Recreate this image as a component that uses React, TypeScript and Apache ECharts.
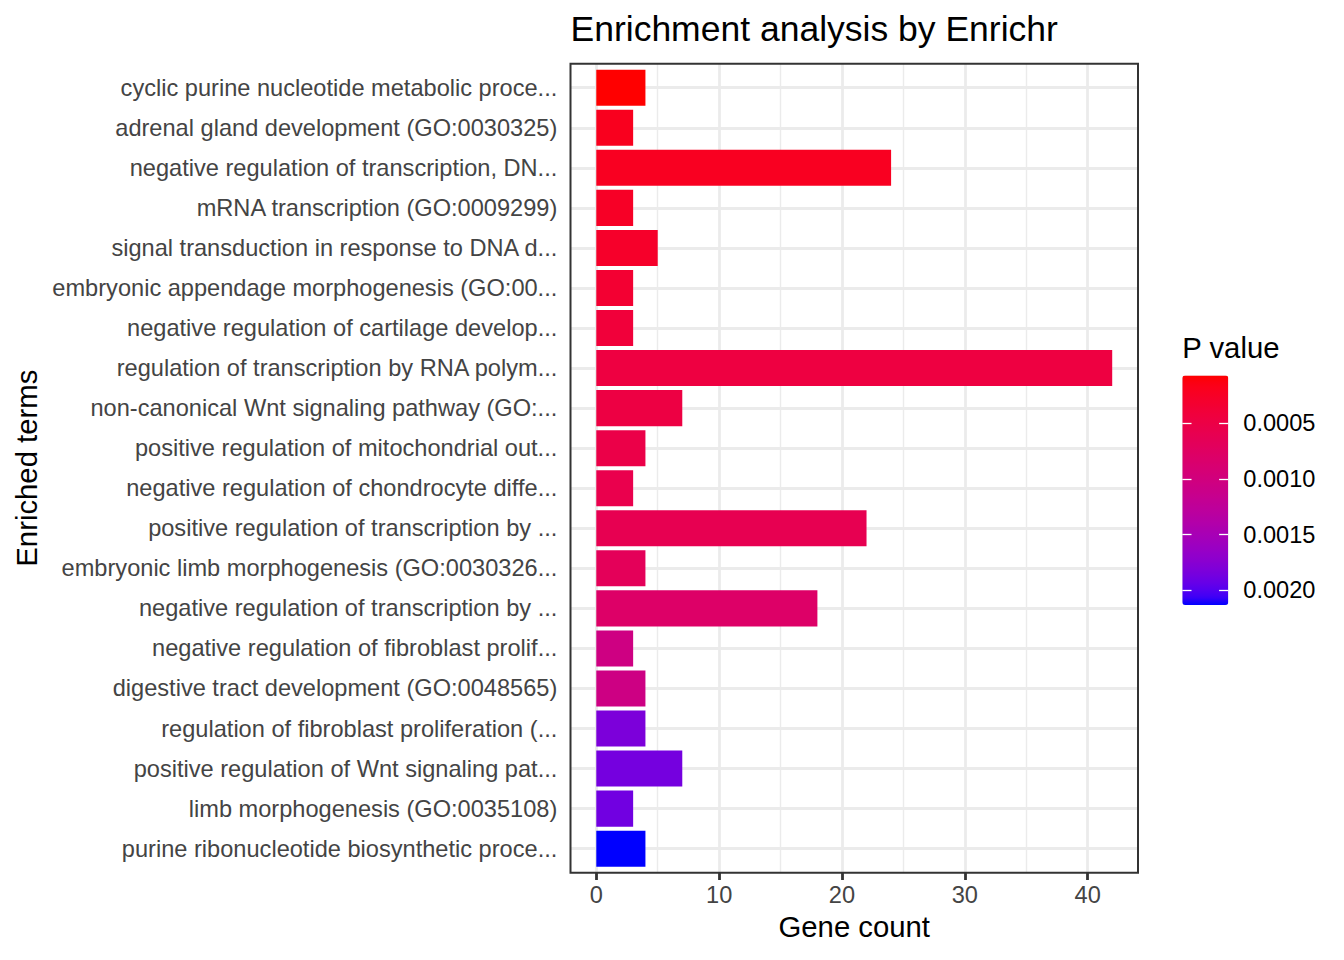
import React, { useEffect, useRef } from 'react';
import * as echarts from 'echarts';

// ---------------- data ----------------
const terms = [
  'cyclic purine nucleotide metabolic proce...',
  'adrenal gland development (GO:0030325)',
  'negative regulation of transcription, DN...',
  'mRNA transcription (GO:0009299)',
  'signal transduction in response to DNA d...',
  'embryonic appendage morphogenesis (GO:00...',
  'negative regulation of cartilage develop...',
  'regulation of transcription by RNA polym...',
  'non-canonical Wnt signaling pathway (GO:...',
  'positive regulation of mitochondrial out...',
  'negative regulation of chondrocyte diffe...',
  'positive regulation of transcription by ...',
  'embryonic limb morphogenesis (GO:0030326...',
  'negative regulation of transcription by ...',
  'negative regulation of fibroblast prolif...',
  'digestive tract development (GO:0048565)',
  'regulation of fibroblast proliferation (...',
  'positive regulation of Wnt signaling pat...',
  'limb morphogenesis (GO:0035108)',
  'purine ribonucleotide biosynthetic proce...',
];
const geneCounts = [4, 3, 24, 3, 5, 3, 3, 42, 7, 4, 3, 22, 4, 18, 3, 4, 4, 7, 3, 4];
const pValues = [
  0.000073, 0.0002, 0.00022, 0.00025, 0.00028, 0.00034, 0.0004, 0.00046, 0.00048, 0.00052,
  0.00056, 0.0006, 0.00067, 0.0008, 0.00104, 0.00105, 0.00182, 0.00186, 0.00188, 0.00213,
];
const xMajorBreaks = [0, 10, 20, 30, 40];
const xMinorBreaks = [5, 15, 25, 35];
const legendBreaks = [0.0005, 0.001, 0.0015, 0.002];

const title = 'Enrichment analysis by Enrichr';
const xTitle = 'Gene count';
const yTitle = 'Enriched terms';
const legendTitle = 'P value';
const lowColor = '#FF0000';
const highColor = '#0000FF';

// ---------------- layout / style ----------------
const FONT = "'Liberation Sans', Arial, Helvetica, sans-serif";
const PANEL_L = 570.5;
const PANEL_R = 1138;
const PANEL_T = 63.7;
const PANEL_B = 872.7;
const PANEL_W = PANEL_R - PANEL_L;
const PANEL_H = PANEL_B - PANEL_T;
const CAT_UNIT = PANEL_H / (terms.length + 0.2);
const BAR_T = PANEL_T + 0.1 * CAT_UNIT;
const BAR_H = terms.length * CAT_UNIT;

const CB_L = 1182.3;
const CB_T = 375.5;
const CB_W = 46;
const CB_H = 229.5;
const CB_TICK = 9.2;

const AXIS_TEXT = 23.6;
const TITLE_TEXT = 29.3;
const PLOT_TITLE = 35.5;
const GRID_COL = '#EBEBEB';
const DARK = '#333333';
const AXIS_TEXT_COL = '#444444';

// ---------------- Lab colour ramp (like scales::seq_gradient_pal) ----------------
function hexToRgb(h: string) {
  const v = parseInt(h.slice(1), 16);
  return [(v >> 16) & 255, (v >> 8) & 255, v & 255];
}
const toLin = (c: number) => {
  c /= 255;
  return c <= 0.04045 ? c / 12.92 : Math.pow((c + 0.055) / 1.055, 2.4);
};
const fromLin = (c: number) => {
  c = Math.max(0, Math.min(1, c));
  const v = c <= 0.0031308 ? 12.92 * c : 1.055 * Math.pow(c, 1 / 2.4) - 0.055;
  return Math.round(v * 255);
};
const D = 6 / 29;
const f = (t: number) => (t > D * D * D ? Math.cbrt(t) : t / (3 * D * D) + 4 / 29);
const finv = (t: number) => (t > D ? t * t * t : 3 * D * D * (t - 4 / 29));
function rgbToLab(rgb: number[]) {
  const [r, g, b] = rgb.map(toLin);
  const X = 0.4124564 * r + 0.3575761 * g + 0.1804375 * b;
  const Y = 0.2126729 * r + 0.7151522 * g + 0.072175 * b;
  const Z = 0.0193339 * r + 0.119192 * g + 0.9503041 * b;
  const fx = f(X / 0.95047), fy = f(Y), fz = f(Z / 1.08883);
  return [116 * fy - 16, 500 * (fx - fy), 200 * (fy - fz)];
}
function labToHex(lab: number[]) {
  const fy = (lab[0] + 16) / 116;
  const fx = fy + lab[1] / 500;
  const fz = fy - lab[2] / 200;
  const X = 0.95047 * finv(fx), Y = finv(fy), Z = 1.08883 * finv(fz);
  const r = 3.2404542 * X - 1.5371385 * Y - 0.4985314 * Z;
  const g = -0.969266 * X + 1.8760108 * Y + 0.041556 * Z;
  const b = 0.0556434 * X - 0.2040259 * Y + 1.0572252 * Z;
  return '#' + [r, g, b].map((c) => fromLin(c).toString(16).padStart(2, '0')).join('');
}
function labRamp(c1: string, c2: string, n: number) {
  const a = rgbToLab(hexToRgb(c1));
  const b = rgbToLab(hexToRgb(c2));
  const out: string[] = [];
  for (let i = 0; i < n; i++) {
    const t = i / (n - 1);
    out.push(labToHex([0, 1, 2].map((k) => a[k] + (b[k] - a[k]) * t)));
  }
  return out;
}

export default function App() {
  const ref = useRef<HTMLDivElement>(null);
  useEffect(() => {
    document.body.style.margin = '0';
    const chart = echarts.init(ref.current!, null, { renderer: 'svg' });
    const maxCount = Math.max(...geneCounts);
    const xMin = -0.05 * maxCount;
    const xMax = 1.05 * maxCount;
    const pMin = Math.min(...pValues);
    const pMax = Math.max(...pValues);
    const ramp = labRamp(lowColor, highColor, 31);

    const fmtMult = (step: number, digits: number) => (v: number) => {
      const k = Math.round(v / step);
      return Math.abs(v - k * step) < step * 1e-6 ? (k * step).toFixed(digits) : '';
    };

    const cbAxisBase = {
      type: 'value', gridIndex: 2, min: pMin, max: pMax, inverse: true, z: 10,
      axisLine: { show: false },
      splitLine: { show: false },
    };
    const whiteTick = (inside: boolean) => ({
      show: true, inside, length: CB_TICK, customValues: legendBreaks,
      lineStyle: { color: '#ffffff', width: 1.3 },
    });

    const option: any = {
      animation: false,
      backgroundColor: '#ffffff',
      textStyle: { fontFamily: FONT },
      title: {
        text: title,
        left: PANEL_L,
        top: 10.5,
        padding: 0,
        textStyle: { fontFamily: FONT, fontSize: PLOT_TITLE, fontWeight: 'normal', color: '#000' },
      },
      grid: [
        {
          left: PANEL_L, top: PANEL_T, width: PANEL_W, height: PANEL_H,
          show: true, borderColor: DARK, borderWidth: 2, backgroundColor: 'transparent', z: 3,
        },
        { left: PANEL_L, top: BAR_T, width: PANEL_W, height: BAR_H },
        { left: CB_L, top: CB_T, width: CB_W, height: CB_H },
      ],
      xAxis: [
        {
          type: 'value', gridIndex: 0, min: xMin, max: xMax, position: 'bottom',
          axisLine: { show: false },
          splitLine: { show: false },
          axisTick: {
            show: true, length: 7.3, customValues: xMajorBreaks,
            lineStyle: { color: DARK, width: 2.8 },
          },
          axisLabel: {
            show: true, customValues: xMajorBreaks, margin: 10.4,
            fontSize: AXIS_TEXT, color: AXIS_TEXT_COL, fontFamily: FONT,
            formatter: fmtMult(10, 0), showMinLabel: true, showMaxLabel: true, hideOverlap: false,
          },
        },
        { type: 'value', gridIndex: 1, min: xMin, max: xMax, show: false },
        { type: 'value', gridIndex: 2, min: 0, max: 1, show: false },
      ],
      yAxis: [
        { type: 'value', gridIndex: 0, min: 0, max: 1, show: false },
        {
          type: 'category', gridIndex: 1, data: terms, inverse: true,
          axisLine: { show: false },
          splitLine: { show: false },
          axisTick: { show: true, alignWithLabel: true, length: 7.3, lineStyle: { color: DARK, width: 2.8 } },
          axisLabel: {
            interval: 0, margin: 13.2, fontSize: AXIS_TEXT, color: AXIS_TEXT_COL, fontFamily: FONT,
          },
        },
        {
          ...cbAxisBase,
          position: 'right',
          axisTick: { show: false },
          axisLabel: {
            show: true, customValues: legendBreaks, margin: 15, fontSize: AXIS_TEXT, color: '#000',
            fontFamily: FONT, formatter: fmtMult(0.0005, 4), showMinLabel: true, showMaxLabel: true,
            hideOverlap: false,
          },
        },
        {
          ...cbAxisBase,
          position: 'left',
          axisTick: whiteTick(true),
          axisLabel: { show: false },
        },
        {
          ...cbAxisBase,
          position: 'right',
          offset: -CB_TICK,
          axisTick: whiteTick(false),
          axisLabel: { show: false },
        },
      ],
      visualMap: {
        type: 'continuous',
        seriesIndex: 1,
        dimension: 2,
        min: pMin,
        max: pMax,
        inverse: true,
        orient: 'vertical',
        left: CB_L,
        top: CB_T,
        itemWidth: CB_W,
        itemHeight: CB_H,
        padding: 0,
        z: 1,
        calculable: false,
        hoverLink: false,
        inRange: { color: ramp },
      },
      series: [
        {
          type: 'scatter',
          xAxisIndex: 0,
          yAxisIndex: 0,
          data: [],
          silent: true,
          markLine: {
            silent: true,
            z: 1,
            symbol: ['none', 'none'],
            label: { show: false },
            emphasis: { disabled: true },
            data: [
              ...xMinorBreaks.map((v) => ({ xAxis: v, lineStyle: { color: GRID_COL, width: 1.4, type: 'solid' } })),
              ...xMajorBreaks.map((v) => ({ xAxis: v, lineStyle: { color: GRID_COL, width: 2.8, type: 'solid' } })),
            ],
          },
        },
        {
          type: 'bar',
          xAxisIndex: 1,
          yAxisIndex: 1,
          z: 2,
          barWidth: '90%',
          silent: true,
          encode: { x: 0, y: 1 },
          data: terms.map((t, i) => [geneCounts[i], i, pValues[i]]),
          markLine: {
            silent: true,
            z: 1,
            symbol: ['none', 'none'],
            label: { show: false },
            emphasis: { disabled: true },
            data: terms.map((t, i) => ({ yAxis: i, lineStyle: { color: GRID_COL, width: 2.8, type: 'solid' } })),
          },
        },
      ],
      graphic: [
        {
          type: 'text', x: (PANEL_L + PANEL_R) / 2, y: 926.8, silent: true,
          style: { text: xTitle, font: `${TITLE_TEXT}px ${FONT}`, fill: '#000', textAlign: 'center', textVerticalAlign: 'middle' },
        },
        {
          type: 'text', x: 26, y: (PANEL_T + PANEL_B) / 2, rotation: Math.PI / 2, silent: true,
          style: { text: yTitle, font: `${TITLE_TEXT}px ${FONT}`, fill: '#000', textAlign: 'center', textVerticalAlign: 'middle' },
        },
        {
          type: 'text', x: CB_L, y: 347.8, silent: true,
          style: { text: legendTitle, font: `${TITLE_TEXT}px ${FONT}`, fill: '#000', textAlign: 'left', textVerticalAlign: 'middle' },
        },
      ],
    };
    chart.setOption(option);
    return () => chart.dispose();
  }, []);
  return <div ref={ref} style={{ position: 'absolute', left: 0, top: 0, width: 1344, height: 960 }} />;
}
